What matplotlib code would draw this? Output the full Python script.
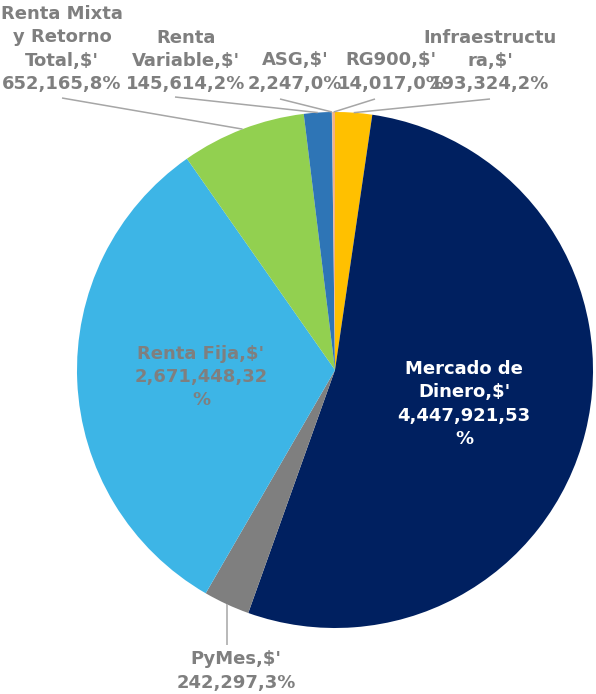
import numpy as np
import matplotlib
matplotlib.use("Agg")
import matplotlib.pyplot as plt

# ---- data ----
categories = ["Infraestructura", "Mercado de Dinero", "PyMes", "Renta Fija",
              "Renta Mixta y Retorno Total", "Renta Variable", "ASG", "RG900"]
values = [193324, 4447921, 242297, 2671448, 652165, 145614, 2247, 14017]
# label names as wrapped in the chart
label_names = ["Infraestructu\nra,$'", "Mercado de\nDinero,$'", "PyMes,$'", "Renta Fija,$'",
               "Renta Mixta\ny Retorno\nTotal,$'", "Renta\nVariable,$'", "ASG,$'", "RG900,$'"]
colors = ["#FFC000", "#002060", "#7F7F7F", "#3DB5E6", "#92D050", "#2E75B6", "#A5A5A5", "#F4B183"]

W, H = 596, 694
fig = plt.figure(figsize=(W / 100, H / 100), dpi=100)
ax = fig.add_axes([0, 0, 1, 1])

cx, cy, R = 335, 370, 258
# inverted y axis: startangle -90 + counterclock draws clockwise from 12 o'clock on screen
ax.set_ylim(H, 0)
wedges, _ = ax.pie(values, colors=colors, startangle=-90, counterclock=True,
                   radius=R, center=(cx, cy), frame=True,
                   wedgeprops=dict(linewidth=0))
ax.set_xlim(0, W)
ax.set_ylim(H, 0)
ax.set_aspect("equal")
ax.axis("off")

total = float(sum(values))
pcts = [int(round(v / total * 100)) for v in values]


def fmt(v):
    return f"{v:,}"


lbl_col = "#7F7F7F"
fs = 13
font = dict(family="DejaVu Sans", weight="bold", fontsize=fs, ha="center", va="center",
            linespacing=1.38)

# label layout: block centers in pixels
layout = {
    "Infraestructura": (490, 61),
    "Mercado de Dinero": (464, 404),
    "PyMes": (236, 671),
    "Renta Fija": (201, 377),
    "Renta Mixta y Retorno Total": (62, 49),
    "Renta Variable": (186, 61),
    "ASG": (295, 72),
    "RG900": (391, 72),
}
line_start = {
    "Infraestructura": (490, 99),
    "PyMes": (None, 645),
    "Renta Mixta y Retorno Total": (62, 98),
    "Renta Variable": (175, 97),
    "ASG": (280, 99),
    "RG900": (375, 99),
}

cum = np.cumsum([0] + values) / total
for i, cat in enumerate(categories):
    name = label_names[i]
    valtxt = f"{fmt(values[i])},{pcts[i]}%"
    if cat in ("Mercado de Dinero", "Renta Fija"):
        valtxt = f"{fmt(values[i])},{pcts[i]}\n%"
    txt = f"{name}\n{valtxt}"
    col = "white" if cat == "Mercado de Dinero" else lbl_col
    x, y = layout[cat]
    if cat in line_start:
        mid = (cum[i] + cum[i + 1]) / 2 * 2 * np.pi
        px = cx + R * np.sin(mid)
        py = cy - R * np.cos(mid)
        sx, sy = line_start[cat]
        if sx is None:
            sx = px
        ax.plot([sx, px], [sy, py], color="#A6A6A6", lw=1.1, zorder=1, solid_capstyle="butt")
    ax.text(x, y, txt, color=col, zorder=5, **font)

fig.savefig("out.png", dpi=100)
